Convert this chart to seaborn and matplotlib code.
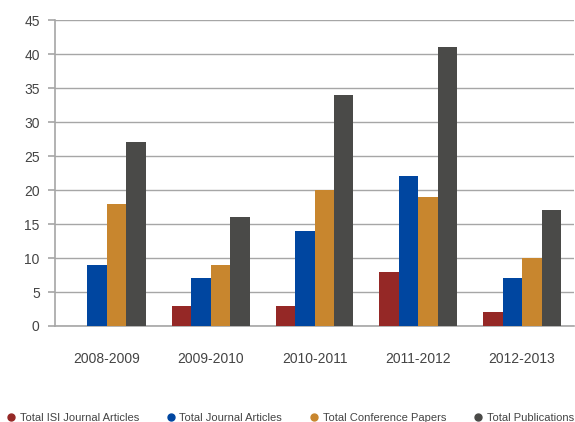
import numpy as np
import pandas as pd
import matplotlib
matplotlib.use("Agg")
import matplotlib.pyplot as plt
import seaborn as sns
from matplotlib.lines import Line2D

# Chart data
years = ["2008-2009", "2009-2010", "2010-2011", "2011-2012", "2012-2013"]
isi_articles = [0, 3, 3, 8, 2]
journal_articles = [9, 7, 14, 22, 7]
conference_papers = [18, 9, 20, 19, 10]
total_publications = [27, 16, 34, 41, 17]

series_names = ["Total ISI Journal Articles", "Total Journal Articles",
                "Total Conference Papers", "Total Publications"]
colors = ["#952826", "#0046A0", "#C8862E", "#4A4A48"]

df = pd.DataFrame({
    "Year": years * 4,
    "Series": np.repeat(series_names, len(years)),
    "Count": isi_articles + journal_articles + conference_papers + total_publications,
})

sns.set_style("white")
plt.rcParams["font.family"] = ["Liberation Sans", "DejaVu Sans"]

fig = plt.figure(figsize=(5.75, 4.22), dpi=100)
ax = fig.add_axes([0.0957, 0.2275, 0.9026, 0.725])

sns.barplot(data=df, x="Year", y="Count", hue="Series", palette=colors,
            width=0.75, saturation=1, ax=ax, legend=False, zorder=3,
            linewidth=0, edgecolor="none")

ax.set_ylim(0, 45)
ax.set_xlim(-0.5, 4.5)
ax.set_yticks(range(0, 46, 5))
ax.yaxis.grid(True, color="#a6a6a6", linewidth=1, zorder=0)
ax.set_axisbelow(True)

for side in ["top", "right"]:
    ax.spines[side].set_visible(False)
for side in ["left", "bottom"]:
    ax.spines[side].set_color("#a6a6a6")
    ax.spines[side].set_linewidth(1.2)

# ticks at category boundaries
ax.set_xticks(np.arange(-0.5, 5.0, 1.0), minor=True)
ax.tick_params(axis="x", which="minor", length=5, color="#a6a6a6", width=1.2)
ax.tick_params(axis="x", which="major", length=0, pad=19, labelsize=10, labelcolor="#444444")
ax.tick_params(axis="y", length=5, color="#a6a6a6", width=1.2, pad=6,
               labelsize=10, labelcolor="#444444", left=True)
ax.set_xlabel("")
ax.set_ylabel("")

handles = [Line2D([0], [0], marker="o", linestyle="", markersize=5,
                  markerfacecolor=c, markeredgecolor=c) for c in colors]
fig.legend(handles, series_names, loc="lower center", ncol=4, frameon=False,
           bbox_to_anchor=(0.505, -0.025), fontsize=8, handletextpad=0.35,
           columnspacing=2.5, labelcolor="#444444", handlelength=0.8)

fig.savefig("out.png", dpi=100)
